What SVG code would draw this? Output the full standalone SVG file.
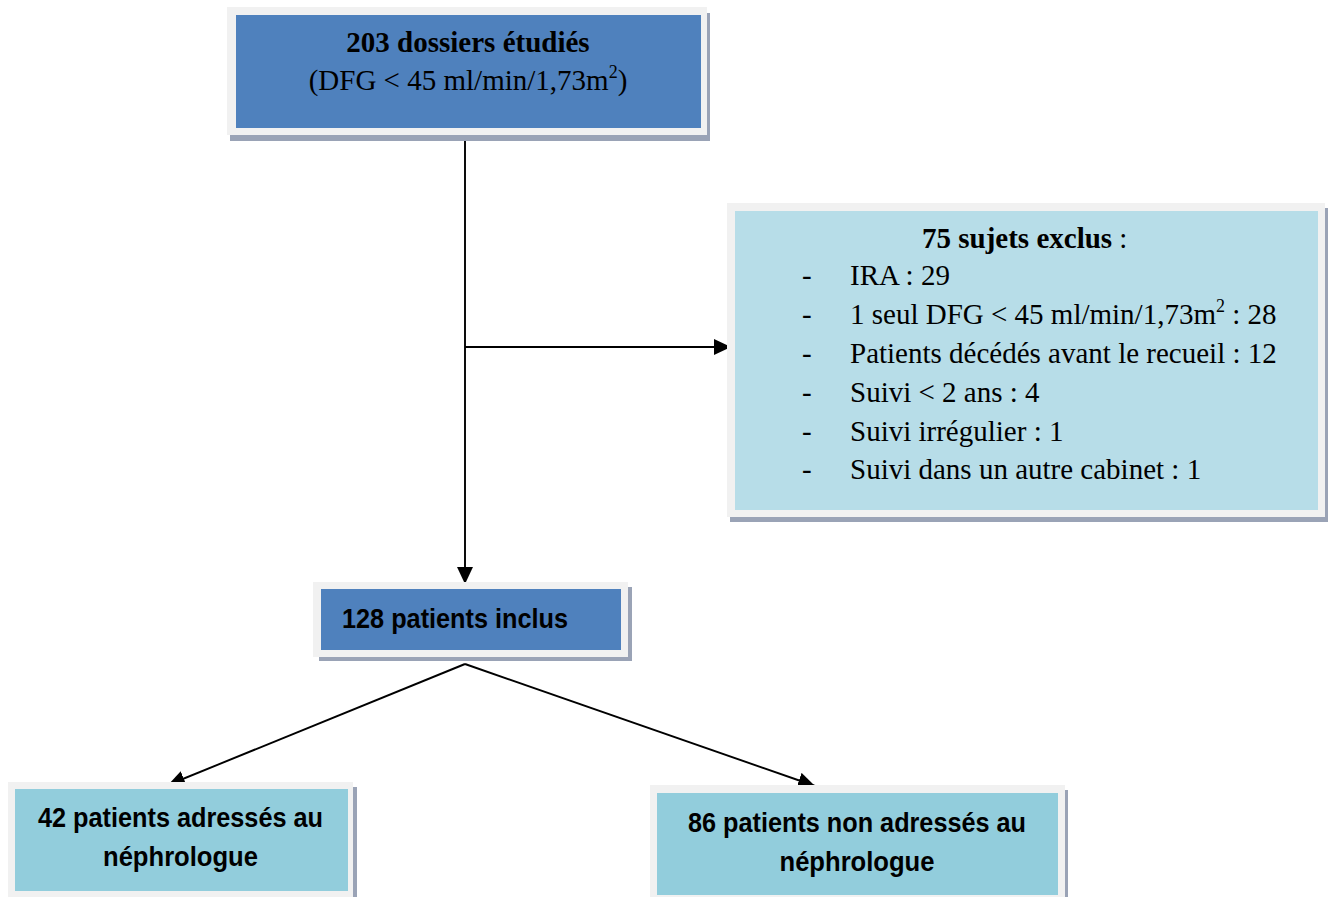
<svg xmlns="http://www.w3.org/2000/svg" width="1333" height="897" viewBox="0 0 1333 897">
<style>
.shadow{fill:#9aa3b6}
.frame{fill:#f1f1f1}
.dark{fill:#4f81bd}
.pale{fill:#b7dde8}
.mid{fill:#92cddc}
.serif{font-family:"Liberation Serif","Times New Roman",serif;font-size:29px;fill:#000}
.sans{font-family:"Liberation Sans",Arial,sans-serif;font-size:27px;font-weight:bold;fill:#000}
.b{font-weight:bold}
.conn{stroke:#000;stroke-width:1.9;fill:none}
</style>
<defs>
<marker id="arrow" markerUnits="userSpaceOnUse" markerWidth="18" markerHeight="17" refX="17" refY="8" orient="auto">
<path d="M0,0 L17,8 L0,16 z" fill="#000"/>
</marker>
</defs>
<rect width="1333" height="897" fill="#fff"/>
<g id="connectors">
<line class="conn" x1="465" y1="140" x2="465" y2="584" marker-end="url(#arrow)"/>
<line class="conn" x1="465" y1="347" x2="731" y2="347" marker-end="url(#arrow)"/>
<line class="conn" x1="465" y1="664" x2="168" y2="785" marker-end="url(#arrow)"/>
<line class="conn" x1="465" y1="664" x2="815" y2="786" marker-end="url(#arrow)"/>
</g>
<g id="node-dossiers">
<rect class="shadow" x="230" y="13" width="480" height="128"/>
<rect class="frame" x="227" y="7" width="480" height="128"/>
<rect class="dark" x="236" y="15" width="465" height="113"/>
<text class="serif b" x="468" y="52" text-anchor="middle">203 dossiers étudiés</text>
<text class="serif" x="468" y="90" text-anchor="middle">(DFG &lt; 45 ml/min/1,73m<tspan font-size="18" dy="-12">2</tspan><tspan dy="12">)</tspan></text>
</g>
<g id="node-exclus">
<rect class="shadow" x="730" y="208" width="598" height="314"/>
<rect class="frame" x="727" y="203" width="598" height="314"/>
<rect class="pale" x="735" y="211" width="583" height="299"/>
<text class="serif" x="922" y="248"><tspan class="b">75 sujets exclus</tspan> :</text>
<g class="serif">
<text x="802" y="285">-</text><text x="850" y="285">IRA : 29</text>
<text x="802" y="324">-</text><text x="850" y="324">1 seul DFG &lt; 45 ml/min/1,73m<tspan font-size="18" dy="-12">2</tspan><tspan dy="12"> : 28</tspan></text>
<text x="802" y="363">-</text><text x="850" y="363">Patients décédés avant le recueil : 12</text>
<text x="802" y="402">-</text><text x="850" y="402">Suivi &lt; 2 ans : 4</text>
<text x="802" y="441">-</text><text x="850" y="441">Suivi irrégulier : 1</text>
<text x="802" y="479">-</text><text x="850" y="479">Suivi dans un autre cabinet : 1</text>
</g>
</g>
<g id="node-inclus">
<rect class="shadow" x="319" y="587" width="313" height="74"/>
<rect class="frame" x="313" y="582" width="315" height="75"/>
<rect class="dark" x="321" y="589" width="300" height="61"/>
<text class="sans" x="342" y="628" textLength="226" lengthAdjust="spacingAndGlyphs">128 patients inclus</text>
</g>
<g id="node-adresses">
<rect class="shadow" x="14" y="787" width="343" height="115"/>
<rect class="frame" x="8" y="782" width="345" height="120"/>
<rect class="mid" x="15" y="789" width="333" height="102"/>
<text class="sans" x="180.5" y="827" text-anchor="middle" textLength="285" lengthAdjust="spacingAndGlyphs">42 patients adressés au</text>
<text class="sans" x="180.5" y="866" text-anchor="middle" textLength="155" lengthAdjust="spacingAndGlyphs">néphrologue</text>
</g>
<g id="node-non-adresses">
<rect class="shadow" x="656" y="790" width="412" height="112"/>
<rect class="frame" x="650" y="785" width="415" height="117"/>
<rect class="mid" x="657" y="793" width="401" height="102"/>
<text class="sans" x="857" y="832" text-anchor="middle" textLength="338" lengthAdjust="spacingAndGlyphs">86 patients non adressés au</text>
<text class="sans" x="857" y="871" text-anchor="middle" textLength="155" lengthAdjust="spacingAndGlyphs">néphrologue</text>
</g>
</svg>
